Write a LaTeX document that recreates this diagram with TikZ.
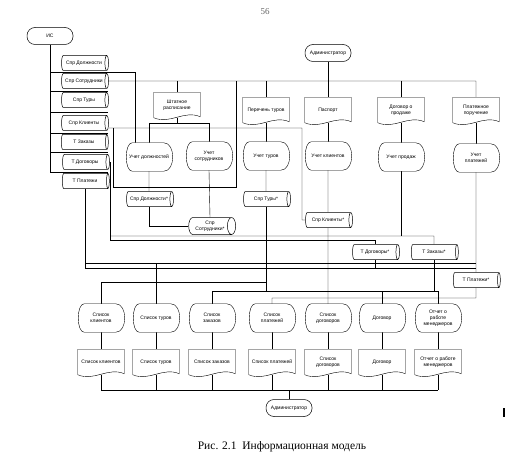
\documentclass[tikz,border=0pt]{standalone}
\usepackage{fontspec}
\setmainfont{Liberation Sans}
\newfontfamily\serifcap{Liberation Serif}
\usetikzlibrary{shapes.geometric}
\pgfdeclarelayer{lines}
\pgfdeclarelayer{outl}
\pgfsetlayers{lines,outl,main}

\begin{document}
\begin{tikzpicture}[x=1pt, y=-1pt, line width=0.5pt,
    every node/.style={font=\fontsize{5}{5.8}\selectfont},
    term/.style={draw, fill=white, rounded corners=8pt, minimum width=46, minimum height=17, inner sep=0},
    tbl/.style={draw, fill=white, cylinder, shape aspect=0.8, minimum height=47, minimum width=15, inner sep=0, align=center},
    doc/.style={minimum width=46, minimum height=25, inner sep=0, align=center},
    disp/.style={minimum width=47, minimum height=28, inner sep=0, align=center}]
\useasboundingbox (0,0) rectangle (531,460);

\node[font=\serifcap\fontsize{9}{10}\selectfont, text=black!60] (pg) at (265,12) {56};

\node[term] (is) at (50,36) {ИС};
\node[term] (adm) at (328,53) {Администратор};

\node[tbl] (sprDol) at (84,63) {Спр Должности};
\node[tbl] (sprSotr) at (84,81) {Спр Сотрудники};
\node[tbl] (sprTur) at (84,100) {Спр Туры};
\node[tbl] (sprKl) at (84,123) {Спр Клиенты};
\node[tbl] (tZak) at (84,142) {Т Заказы};
\node[tbl] (tDog) at (85,162) {Т Договоры};
\node[tbl] (tPlat) at (85,181) {Т Платежи};

\node[doc] (shtat) at (177,105) {Штатное\\расписание};
\node[doc] (pertur) at (266,110) {Перечень туров};
\node[doc] (pasp) at (328,110) {Паспорт};
\node[doc] (dogpr) at (401,110) {Договор о\\продаже};
\node[doc] (platpor) at (476,110) {Платежное\\поручение};

\node[disp] (uDol) at (149,157) {Учет должностей};
\node[disp] (uSotr) at (209,156) {Учет\\сотрудников};
\node[disp] (uTur) at (266,156) {Учет туров};
\node[disp] (uKl) at (328,156) {Учет клиентов};
\node[disp] (uProd) at (401,157) {Учет продаж};
\node[disp] (uPlat) at (476,158) {Учет\\платежей};

\node[tbl] (sprDolS) at (149,199) {Спр Должности*};
\node[tbl, minimum width=17] (sprSotrS) at (210,226) {Спр\\Сотрудники*};
\node[tbl] (sprTurS) at (266,199) {Спр Туры*};
\node[tbl] (sprKlS) at (328,220) {Спр Клиенты*};
\node[tbl] (tDogS) at (375,252) {Т Договоры*};
\node[tbl] (tZakS) at (434,252) {Т Заказы*};
\node[tbl] (tPlatS) at (476,280) {Т Платежи*};

\node[disp] (pKl) at (101,318) {Список\\клиентов};
\node[disp] (pTur) at (156,318) {Список туров};
\node[disp] (pZak) at (212,318) {Список\\заказов};
\node[disp] (pPlat) at (272,318) {Список\\платежей};
\node[disp] (pDog) at (328,318) {Список\\договоров};
\node[disp] (pDgv) at (382,318) {Договор};
\node[disp] (pOtch) at (438,318) {Отчет о\\работе\\менеджеров};

\node[doc] (dKl) at (101,362) {Список клиентов};
\node[doc] (dTur) at (156,362) {Список туров};
\node[doc] (dZak) at (212,362) {Список заказов};
\node[doc] (dPlat) at (272,362) {Список платежей};
\node[doc] (dDog) at (328,362) {Список\\договоров};
\node[doc] (dDgv) at (382,362) {Договор};
\node[doc] (dOtch) at (438,362) {Отчет о работе\\менеджеров};

\node[term] (admB) at (289,408) {Администратор};

\node[font=\serifcap\fontsize{11.5}{14}\selectfont] (cap) at (282,447) {Рис. 2.1\ \ Информационная модель};
\draw[line width=1.2pt] (504,408) -- (504,417);

\begin{pgfonlayer}{outl}
\foreach \n in {shtat,pertur,pasp,dogpr,platpor,dKl,dTur,dZak,dPlat,dDog,dDgv,dOtch}
  \draw[fill=white] (\n.south west) -- (\n.north west) -- (\n.north east) -- ([yshift=1pt]\n.south east)
    .. controls +(-16pt,7pt) and +(16pt,-7pt) .. (\n.south west);
\foreach \n in {uDol,uSotr,uTur,uKl,uProd,uPlat,pKl,pTur,pZak,pPlat,pDog,pDgv,pOtch}
  \draw[fill=white] ([xshift=7pt]\n.north west) -- ([xshift=-9pt]\n.north east)
    .. controls ([xshift=3pt]\n.north east) and ([xshift=3pt]\n.south east) .. ([xshift=-9pt]\n.south east)
    -- ([xshift=7pt]\n.south west)
    .. controls ([xshift=-1pt]\n.south west) and ([xshift=-1pt]\n.north west) .. cycle;
\end{pgfonlayer}

\begin{pgfonlayer}{lines}
\coordinate (isEnd) at (50,172);
\draw (is.south) -- (isEnd);
\foreach \y in {72,91,112,133,152,172} \draw (50,\y) -- (108,\y);
\coordinate (dolIn) at (135,72);
\draw (50,72) -- (dolIn) -- (dolIn |- uDol.north);
\coordinate (busR) at (476,81);
\draw (sprSotr.east) -- (busR) -- (platpor.north);
\draw (adm.south) -- (pasp.north);
\foreach \n in {shtat,pertur,dogpr} \draw (\n.north |- busR) -- (\n.north);
\coordinate (shS) at (177,123);
\draw (shtat.south) -- (shS);
\draw (uDol.north |- shS) -- (uSotr.north |- shS);
\foreach \n in {uDol,uSotr} \draw (\n.north |- shS) -- (\n.north);
\coordinate (klTurn) at (302,128);
\draw ([yshift=-5pt]sprKl.east) -- (klTurn) |- (sprKlS.west);
\coordinate (frA) at (113,128);
\coordinate (frB) at (236,187);
\draw (frA) |- (frB) -- (frB |- busR);
\draw (pertur.south) -- (uTur.north);
\draw (pasp.south) -- (uKl.north);
\draw (dogpr.south) -- (uProd.north);
\draw (platpor.south) -- (uPlat.north);
\draw (uDol.south) -- (sprDolS.north);
\draw (uSotr.south) -- (sprSotrS.north);
\draw (uTur.south) -- (sprTurS.north);
\draw (uKl.south) -- (sprKlS.north);
\draw (uPlat.south) -- (tPlatS.north);
\draw (sprDolS.south) |- (sprSotrS.west);
\coordinate (tdDown) at (110,240);
\coordinate (busZ) at (434,236);
\draw (tDog.east) -| (tdDown) -- (tdDown -| tDogS.north) -- (tDogS.north);
\draw (tdDown |- busZ) -- (busZ) -- (tZakS.north);
\draw (uProd.south) -- (uProd.south |- busZ);
\coordinate (frC) at (476,263);
\coordinate (frD) at (476,268);
\draw (tPlat.south) |- (frD);
\draw (tPlat.south |- frC) -- (frC);
\draw (tDogS.south) -- (tDogS.south |- frD);
\coordinate (bA) at (266,282);
\coordinate (bB) at (438,291);
\coordinate (bC) at (476,298);
\draw (pTur.north |- frC) -- (pTur.north);
\draw (pKl.north |- bA) -- (bA);
\draw (pKl.north |- bA) -- (pKl.north);
\draw (sprTurS.south) -- (sprTurS.south |- bB);
\draw (pZak.north |- bB) -- (bB);
\draw (tZakS.south) -- (tZakS.south |- bB);
\foreach \n in {pZak,pDgv,pOtch} \draw (\n.north |- bB) -- (\n.north);
\draw (tPlatS.south) -- (bC) -- (bC -| pPlat.north) -- (pPlat.north);
\draw (sprKlS.south) -- (pDog.north);
\foreach \n/\m in {pKl/dKl,pTur/dTur,pZak/dZak,pPlat/dPlat,pDog/dDog,pDgv/dDgv,pOtch/dOtch}
  \draw (\n.south) -- (\m.north);
\coordinate (bD) at (289,390);
\draw (dKl.south |- bD) -- (dOtch.south |- bD);
\foreach \m in {dKl,dTur,dZak,dPlat,dDog,dDgv,dOtch} \draw (\m.south) -- (\m.south |- bD);
\draw (bD) -- (admB.north);
\end{pgfonlayer}
\end{tikzpicture}
\end{document}
